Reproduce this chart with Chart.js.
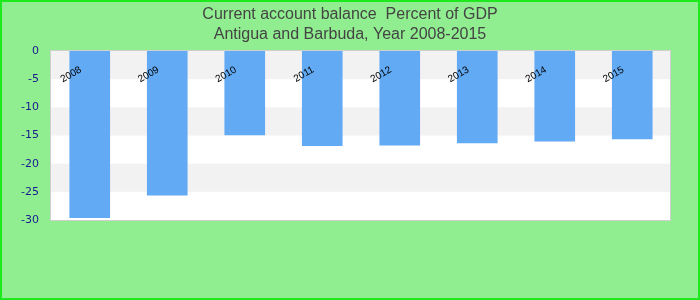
<!DOCTYPE html>
<html>
<head>
<meta charset="utf-8">
<script src="https://cdn.jsdelivr.net/npm/chart.js@4/dist/chart.umd.min.js"></script>
<style>
html, body { margin: 0; padding: 0; background: #90ee90; }
canvas { display: block; }
</style>
</head>
<body>
<canvas id="c" width="700" height="300"></canvas>
<script>
const years = ["2008", "2009", "2010", "2011", "2012", "2013", "2014", "2015"];
const balance = [-29.6, -25.6, -14.9, -16.8, -16.7, -16.3, -16.0, -15.6];
const titleLines = ["Current account balance  Percent of GDP", "Antigua and Barbuda, Year 2008-2015"];
const yMin = -30, yMax = 0, yStep = 5;

const decor = {
  id: 'decor',
  beforeDraw(chart) {
    const ctx = chart.ctx;
    ctx.save();
    ctx.fillStyle = '#90ee90';
    ctx.fillRect(0, 0, chart.width, chart.height);
    ctx.strokeStyle = '#1ee81e';
    ctx.lineWidth = 2;
    ctx.strokeRect(1, 1, chart.width - 2, chart.height - 2);
    ctx.restore();
  },
  beforeDatasetsDraw(chart) {
    const ctx = chart.ctx, a = chart.chartArea, ys = chart.scales.y;
    ctx.save();
    ctx.fillStyle = '#ffffff';
    ctx.fillRect(a.left, a.top, a.right - a.left, a.bottom - a.top);
    const ticks = ys.ticks.map(t => t.value).sort((p, q) => q - p);
    for (let i = 0; i < ticks.length - 1; i++) {
      if (i % 2 === 0) {
        const y1 = ys.getPixelForValue(ticks[i]);
        const y2 = ys.getPixelForValue(ticks[i + 1]);
        ctx.fillStyle = '#f2f2f2';
        ctx.fillRect(a.left, y1, a.right - a.left, y2 - y1);
      }
    }
    ctx.strokeStyle = '#cfcfcf';
    ctx.lineWidth = 1;
    ctx.strokeRect(a.left - 0.5, a.top - 0.5, a.right - a.left, a.bottom - a.top + 1);
    ctx.restore();
  },
  afterDatasetsDraw(chart) {
    const ctx = chart.ctx, a = chart.chartArea, xs = chart.scales.x;
    ctx.save();
    ctx.font = '10px "Liberation Sans", Arial, sans-serif';
    ctx.fillStyle = '#000000';
    ctx.textAlign = 'right';
    ctx.textBaseline = 'middle';
    chart.data.labels.forEach((lab, i) => {
      const x = xs.getPixelForValue(i);
      ctx.save();
      ctx.translate(x - 9, a.top + 18);
      ctx.rotate(-Math.PI / 6);
      ctx.fillText(lab, 0, 0);
      ctx.restore();
    });
    ctx.restore();
  }
};

new Chart(document.getElementById('c'), {
  type: 'bar',
  data: {
    labels: years,
    datasets: [{
      data: balance,
      backgroundColor: '#62aaf4',
      borderWidth: 0,
      barThickness: 40
    }]
  },
  options: {
    responsive: false,
    animation: false,
    devicePixelRatio: 1,
    layout: { padding: { left: 0, right: 0, top: 0, bottom: 80 } },
    plugins: {
      legend: { display: false },
      tooltip: { enabled: false },
      title: {
        display: true,
        text: titleLines,
        color: '#444444',
        font: { family: '"Liberation Sans", Arial, sans-serif', size: 16, weight: 'normal', lineHeight: 1.25 },
        padding: { top: 5, bottom: 6 }
      }
    },
    scales: {
      x: { display: false, grid: { display: false } },
      y: {
        min: yMin,
        max: yMax,
        border: { display: false },
        grid: { display: false, drawTicks: false },
        ticks: {
          stepSize: yStep,
          padding: 12,
          color: '#1a1a90',
          font: { family: '"DejaVu Sans", sans-serif', size: 11 }
        },
        afterFit(scale) { scale.width = 51; }
      },
      yRight: {
        position: 'right',
        display: true,
        border: { display: false },
        grid: { display: false, drawTicks: false },
        ticks: { display: false },
        afterFit(scale) { scale.width = 29; }
      }
    }
  },
  plugins: [decor]
});
</script>
</body>
</html>
